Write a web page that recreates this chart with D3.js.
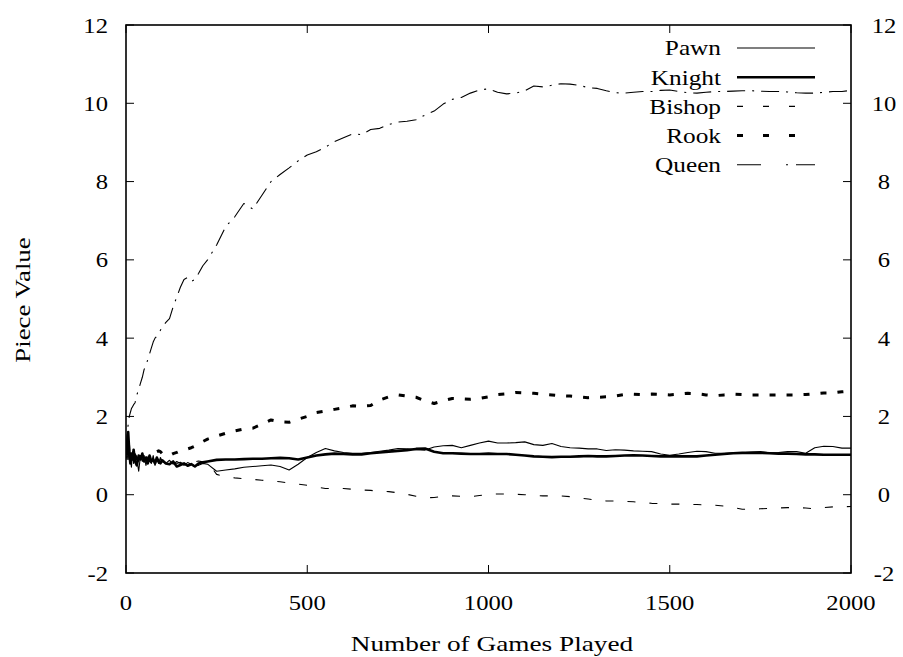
<!DOCTYPE html>
<html><head><meta charset="utf-8">
<script src="https://cdn.jsdelivr.net/npm/d3@7"></script>
<style>
body{margin:0;background:#fff}
text{font-family:"Liberation Serif","Times New Roman",serif;fill:#000}
</style>
</head><body>
<svg id="c" width="903" height="657"></svg>
<script>
const games = [0,3,6,9,12,15,18,21,25,30,35,40,45,50,55,60,65,70,75,80,85,90,95,100,
  110,120,130,140,150,160,170,180,190,200,212,
  225,250,275,300,325,350,375,400,425,450,475,500,
  525,550,575,600,625,650,675,700,725,750,
  775,800,825,850,875,900,925,950,975,1000,
  1025,1050,1075,1100,1125,1150,1175,1200,1225,1250,
  1275,1300,1325,1350,1375,1400,1425,1450,1475,1500,
  1525,1550,1575,1600,1625,1650,1675,1700,1725,1750,
  1775,1800,1825,1850,1875,1900,1925,1950,1975,2000];
const pawn = [1.05,1.2,0.9,1.35,0.95,0.7,1.1,0.8,1.05,0.9,0.6,1.0,0.85,1.0,0.75,0.95,0.85,0.8,1.0,0.75,0.9,0.8,0.95,0.85,
  0.8,0.88,0.78,0.85,0.8,0.75,0.82,0.78,0.74,0.75,0.8,
  0.78,0.6,0.63,0.66,0.7,0.72,0.74,0.76,0.72,0.63,0.78,0.95,
  1.08,1.18,1.12,1.08,1.06,1.06,1.08,1.11,1.14,1.18,
  1.17,1.15,1.14,1.22,1.25,1.26,1.2,1.26,1.32,1.37,
  1.32,1.32,1.33,1.35,1.28,1.26,1.31,1.23,1.2,1.19,
  1.17,1.17,1.13,1.15,1.14,1.12,1.11,1.1,1.04,1.01,
  1.04,1.08,1.11,1.1,1.06,1.06,1.07,1.07,1.09,1.1,
  1.07,1.08,1.1,1.1,1.06,1.2,1.24,1.23,1.19,1.19];
const knight = [1.0,1.3,1.6,1.1,0.8,1.05,0.9,1.15,0.85,0.75,1.0,0.9,1.05,0.85,0.95,0.8,1.0,0.85,0.9,0.8,0.95,0.85,0.8,0.88,
  0.8,0.78,0.85,0.72,0.76,0.8,0.74,0.78,0.72,0.8,0.83,
  0.85,0.89,0.9,0.9,0.91,0.92,0.92,0.93,0.94,0.93,0.9,0.95,
  1.0,1.03,1.05,1.04,1.03,1.03,1.06,1.08,1.1,1.12,
  1.14,1.17,1.18,1.1,1.06,1.06,1.05,1.04,1.04,1.05,
  1.04,1.04,1.02,1.0,0.98,0.97,0.96,0.97,0.97,0.98,
  0.99,0.98,0.98,0.99,1.0,1.01,1.0,0.99,0.98,0.98,
  0.98,0.98,0.98,1.0,1.02,1.04,1.06,1.07,1.07,1.07,
  1.06,1.05,1.05,1.04,1.03,1.03,1.02,1.02,1.02,1.02];
const bishop = [1.0,0.9,1.2,0.95,1.1,0.85,1.0,0.9,1.05,0.95,0.85,1.0,0.9,0.95,0.88,1.0,0.85,0.92,0.86,0.95,0.88,0.82,0.9,0.85,
  0.88,0.82,0.86,0.8,0.83,0.78,0.82,0.8,0.84,0.86,0.84,
  0.84,0.52,0.46,0.43,0.41,0.39,0.37,0.35,0.33,0.3,0.27,0.24,
  0.2,0.16,0.16,0.16,0.14,0.12,0.11,0.09,0.08,0.05,
  0.01,-0.04,-0.08,-0.07,-0.04,-0.03,-0.04,-0.05,-0.02,0.01,
  0.02,0.02,0.01,0.0,-0.02,-0.03,-0.03,-0.03,-0.05,-0.08,
  -0.11,-0.14,-0.16,-0.16,-0.17,-0.18,-0.2,-0.22,-0.23,-0.24,
  -0.24,-0.25,-0.25,-0.26,-0.27,-0.29,-0.33,-0.37,-0.37,-0.36,
  -0.35,-0.34,-0.33,-0.33,-0.34,-0.36,-0.33,-0.31,-0.31,-0.3];
const rook = [1.05,1.1,0.95,1.05,0.9,1.0,1.1,0.95,1.0,0.92,1.0,0.9,0.95,0.88,0.9,0.95,1.0,1.02,1.05,1.08,1.1,1.12,1.1,1.05,
  1.02,1.0,1.05,1.08,1.12,1.15,1.17,1.2,1.24,1.3,1.36,
  1.42,1.5,1.57,1.63,1.68,1.7,1.8,1.91,1.86,1.85,1.93,2.0,
  2.1,2.14,2.18,2.22,2.27,2.26,2.28,2.42,2.5,2.55,
  2.52,2.49,2.4,2.33,2.4,2.46,2.45,2.44,2.46,2.5,
  2.56,2.58,2.61,2.6,2.59,2.57,2.55,2.53,2.52,2.5,
  2.48,2.49,2.5,2.52,2.56,2.57,2.56,2.57,2.56,2.55,
  2.57,2.59,2.58,2.55,2.53,2.55,2.57,2.56,2.55,2.55,
  2.55,2.55,2.55,2.55,2.56,2.58,2.6,2.6,2.63,2.65];
const queen = [1.1,1.5,1.8,2.0,2.1,2.2,2.25,2.3,2.35,2.55,2.7,2.85,3.0,3.2,3.3,3.45,3.6,3.75,3.9,4.0,4.05,4.15,4.2,4.3,
  4.4,4.5,4.8,5.05,5.3,5.5,5.55,5.45,5.5,5.65,5.85,
  6.0,6.38,6.85,7.1,7.44,7.3,7.65,8.0,8.18,8.35,8.53,8.68,
  8.76,8.88,9.02,9.12,9.22,9.2,9.33,9.36,9.46,9.52,
  9.54,9.58,9.7,9.8,9.98,10.1,10.15,10.26,10.34,10.37,
  10.28,10.24,10.26,10.32,10.44,10.42,10.46,10.5,10.49,10.46,
  10.4,10.38,10.32,10.27,10.26,10.28,10.3,10.3,10.33,10.34,
  10.3,10.27,10.26,10.28,10.3,10.3,10.31,10.32,10.32,10.31,
  10.3,10.3,10.29,10.27,10.26,10.26,10.28,10.3,10.3,10.33];
const seriesNames = ["Pawn","Knight","Bishop","Rook","Queen"];
const xTicks = [0,500,1000,1500,2000];
const yTicks = [-2,0,2,4,6,8,10,12];
const xTitle = "Number of Games Played";
const yTitle = "Piece Value";

const seriesValues = [pawn, knight, bishop, rook, queen];
const styles = [
  {w:1.1, dash:null, legDash:null},
  {w:2.6, dash:null, legDash:null},
  {w:1.1, dash:"8,14", legDash:"6,20"},
  {w:3, dash:"6,11", legDash:"6,20"},
  {w:1.1, dash:"18,7,2,7", legDash:"24,25,2,8"}
];

const svg = d3.select("#c");
const L=126, R=851, T=25, B=573;
const x = d3.scaleLinear().domain([0,2000]).range([L,R]);
const y = d3.scaleLinear().domain([-2,12]).range([B,T]);
const FS = 22, SX = 1.15, SXN = 1.12, SXT = 1.24;

function txt(g, px, py, s, anchor, sx, rot){
  return g.append("text")
    .attr("transform", `translate(${px},${py})` + (rot?` rotate(${rot})`:"") + ` scale(${sx},1)`)
    .attr("text-anchor", anchor)
    .attr("dominant-baseline","central")
    .style("font-size", FS+"px")
    .text(s);
}

svg.append("defs").append("clipPath").attr("id","clip")
  .append("rect").attr("x",L).attr("y",T).attr("width",R-L).attr("height",B-T);

// ticks (inward) on all four sides
const tk = svg.append("g").attr("stroke","#000").attr("stroke-width",1);
yTicks.forEach(v=>{
  tk.append("line").attr("x1",L).attr("x2",L+8).attr("y1",y(v)).attr("y2",y(v));
  tk.append("line").attr("x1",R).attr("x2",R-8).attr("y1",y(v)).attr("y2",y(v));
});
xTicks.forEach(v=>{
  tk.append("line").attr("x1",x(v)).attr("x2",x(v)).attr("y1",B).attr("y2",B-8);
  tk.append("line").attr("x1",x(v)).attr("x2",x(v)).attr("y1",T).attr("y2",T+8);
});

// tick labels
const lab = svg.append("g");
yTicks.forEach(v=>{
  txt(lab, 108, y(v), String(v), "end", SXN);
  txt(lab, 884, y(v), String(v), "middle", SXN);
});
xTicks.forEach(v=>{
  txt(lab, x(v), 602, String(v), "middle", SXN);
});
txt(lab, 492, 643, xTitle, "middle", SXT);
txt(lab, 22, 300, yTitle, "middle", 1.22, -90);

// lines
const line = d3.line().x((d,i)=>x(games[i])).y(d=>y(d));
const plot = svg.append("g").attr("clip-path","url(#clip)");
seriesValues.forEach((vals,k)=>{
  plot.append("path").datum(vals)
    .attr("d", line)
    .attr("fill","none")
    .attr("stroke","#000")
    .attr("stroke-width", styles[k].w)
    .attr("stroke-linejoin","round")
    .attr("stroke-dasharray", styles[k].dash);
});

// legend
const leg = svg.append("g");
seriesNames.forEach((n,k)=>{
  const ly = 48 + k*29.2;
  txt(leg, 721, ly, n, "end", SX);
  leg.append("line").attr("x1",737).attr("x2",815).attr("y1",ly).attr("y2",ly)
    .attr("stroke","#000").attr("stroke-width",styles[k].w)
    .attr("stroke-dasharray",styles[k].legDash);
});

// frame
svg.append("rect").attr("x",L).attr("y",T).attr("width",R-L).attr("height",B-T)
  .attr("fill","none").attr("stroke","#000").attr("stroke-width",1.6);
</script>
</body></html>
